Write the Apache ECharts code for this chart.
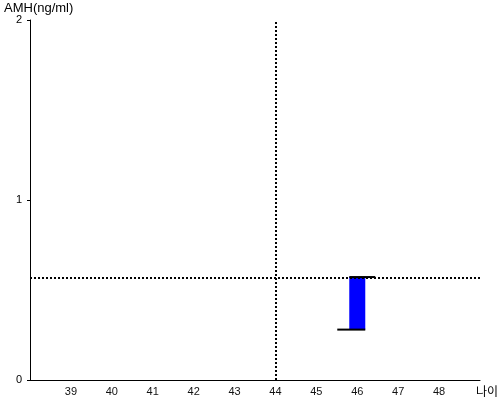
<!DOCTYPE html>
<html>
<head>
<meta charset="utf-8">
<script src="https://cdn.jsdelivr.net/npm/echarts@6/dist/echarts.min.js"></script>
<style>html,body{margin:0;padding:0;background:#fff}#c{width:500px;height:400px}</style>
</head>
<body>
<div id="c"></div>
<script>
// Data
var ages = [46];
var amhLow = [0.28];
var amhHigh = [0.572];
var refAge = 44;
var refAMH = 0.572;
var xTickLabels = ['39','40','41','42','43','44','45','46','47','48'];

var chart = echarts.init(document.getElementById('c'));
var FONT = '"Liberation Sans", Arial, sans-serif';
var rangeData = ages.map(function (a, i) { return [a, amhLow[i], amhHigh[i]]; });

chart.setOption({
  animation: false,
  backgroundColor: '#fff',
  grid: { left: 30, right: 20, top: 20, bottom: 20, containLabel: false, outerBoundsMode: 'none' },
  xAxis: {
    type: 'value', min: 38, max: 49, interval: 1,
    name: '나이', nameLocation: 'end', nameGap: -4,
    nameTextStyle: { color: '#000', fontSize: 12, fontFamily: '"Noto Sans CJK KR", sans-serif', align: 'left', verticalAlign: 'top', padding: [5, 0, 0, 0] },
    nameTruncate: { maxWidth: 100 },
    axisLine: { lineStyle: { color: '#000', width: 1 } },
    axisTick: { show: false },
    splitLine: { show: false },
    axisLabel: {
      color: '#111', fontSize: 11, fontFamily: FONT, margin: 6,
      formatter: function (v) { var s = String(v); return xTickLabels.indexOf(s) >= 0 ? s : ''; }
    }
  },
  yAxis: {
    type: 'value', min: 0, max: 2, interval: 1,
    name: 'AMH(ng/ml)', nameLocation: 'end', nameGap: 3,
    nameTextStyle: { color: '#000', fontSize: 13, fontFamily: FONT, align: 'left', padding: [0, 0, 0, -26] },
    axisLine: { show: true, lineStyle: { color: '#000', width: 1 } },
    axisTick: { show: true, length: 3, lineStyle: { color: '#000' } },
    splitLine: { show: false },
    axisLabel: { color: '#000', fontSize: 11, fontFamily: FONT, margin: 8 }
  },
  series: [{
    type: 'custom',
    data: rangeData,
    renderItem: function (params, api) {
      var lo = api.coord([api.value(0), api.value(1)]);
      var hi = api.coord([api.value(0), api.value(2)]);
      var w = 16;
      return {
        type: 'group',
        children: [
          { type: 'rect', shape: { x: lo[0] - w / 2, y: hi[1], width: w, height: lo[1] - hi[1] }, style: { fill: '#0000ff' } },
          { type: 'line', shape: { x1: lo[0] - 20, y1: lo[1], x2: lo[0] + 8, y2: lo[1] }, style: { stroke: '#000', lineWidth: 2 } },
          { type: 'line', shape: { x1: hi[0] - 8, y1: hi[1], x2: hi[0] + 18, y2: hi[1] }, style: { stroke: '#000', lineWidth: 2 } }
        ]
      };
    },
    markLine: {
      silent: true, symbol: 'none', label: { show: false },
      lineStyle: { color: '#000', width: 2, type: [2, 2] },
      data: [{ xAxis: refAge }, { yAxis: refAMH }]
    }
  }]
});
</script>
</body>
</html>
